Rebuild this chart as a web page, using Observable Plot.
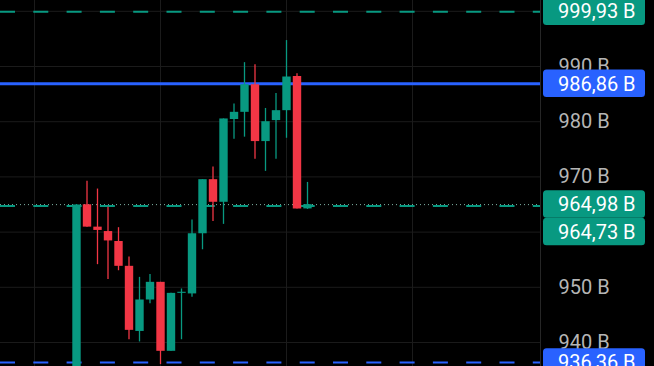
<!DOCTYPE html>
<html><head><meta charset="utf-8">
<script src="https://cdn.jsdelivr.net/npm/d3@7"></script>
<script src="https://cdn.jsdelivr.net/npm/@observablehq/plot@0.6"></script>
<style>
html,body{margin:0;padding:0;background:#000;}
#chart{width:654px;height:366px;overflow:hidden;}
</style></head><body><div id="chart"></div>
<script>
// ---- data ----
const candleIndex = d3.range(23);
const open  = [930.0, 964.95, 960.9, 960.1, 958.3, 953.8, 942.0, 947.7, 950.9, 938.4, 948.9, 948.8, 959.7, 969.5, 965.4, 980.4, 981.7, 986.7, 976.4, 980.2, 982.0, 988.2, 964.2];
const high  = [965.0, 969.2, 967.8, 964.5, 960.8, 955.5, 951.8, 952.3, 950.9, 948.9, 949.7, 962.2, 969.5, 971.8, 980.5, 983.2, 990.7, 990.3, 982.4, 985.1, 994.7, 988.7, 969.0];
const low   = [930.0, 960.9, 954.1, 951.4, 953.0, 940.5, 940.1, 947.0, 936.0, 938.4, 940.5, 948.2, 956.8, 961.9, 961.4, 976.8, 977.2, 973.2, 971.0, 973.2, 977.0, 964.2, 964.1];
const close = [964.9, 960.9, 960.3, 958.4, 953.8, 942.2, 947.7, 950.9, 938.4, 948.9, 949.1, 959.7, 969.5, 965.4, 980.5, 981.7, 986.7, 976.4, 980.0, 982.0, 988.1, 964.2, 964.98];
const gridTicks = [940, 950, 960, 970, 980, 990, 1000];
const labelTicks = [940, 950, 970, 980, 990]; // 960 and 1000 sit under price tags
const gridCandles = [-4, 8, 20, 32];
const levelValues = [999.93, 986.86, 964.73, 936.36];
const levelKinds  = ["target", "alert", "target", "alertDashed"];
const lastPrice = 964.98;
const tagValues = [999.93, 986.86, 964.98, 964.73, 936.36];
const tagKinds  = ["target", "alert", "target", "target", "alert"];

// ---- styling ----
const GREEN = "#089981", RED = "#f23645", BLUE = "#2962ff", GRID = "#1b1b1b";
const kindColor = k => k.startsWith("alert") ? BLUE : GREEN;
const fmt = v => v.toFixed(2).replace(".", ",") + " B";

const candles = candleIndex.map(i => ({i, o: open[i], h: high[i], l: low[i], c: close[i]}));
const levels = levelValues.map((v, k) => ({v, kind: levelKinds[k]}));
const tags = tagValues.map((v, k) => ({value: v, kind: tagKinds[k]}));
const col = d => d.c >= d.o ? GREEN : RED;

const W = 654, H = 366, MR = 114;
const TAG_H = 27.5, TAG_W = 102;

function tagMark(data) {
  return Plot.text(data, {
    y: "value", text: d => fmt(d.value), frameAnchor: "right",
    render(index, scales, values, dimensions) {
      const g = d3.create("svg:g").attr("text-anchor", "start");
      const x0 = dimensions.width - dimensions.marginRight + 3;
      const order = Array.from(index).sort((a, b) => values.y[a] - values.y[b]);
      let prevBottom = -Infinity;
      for (const i of order) {
        let cy = values.y[i];
        if (cy - TAG_H / 2 < prevBottom) cy = prevBottom + TAG_H / 2;
        prevBottom = cy + TAG_H / 2;
        g.append("rect").attr("x", x0).attr("y", cy - TAG_H / 2)
          .attr("width", TAG_W).attr("height", TAG_H).attr("rx", 3.5)
          .attr("fill", kindColor(data[i].kind));
        g.append("text").attr("x", x0 + 15).attr("y", cy).attr("dy", "0.36em")
          .attr("text-anchor", "start")
          .attr("fill", "#ffffff").attr("font-size", 20).text(fmt(data[i].value));
      }
      return g.node();
    }
  });
}

const chart = Plot.plot({
  width: W, height: H,
  marginLeft: 0, marginRight: MR, marginTop: 0, marginBottom: 0,
  style: {background: "#000", fontFamily: "Roboto, sans-serif", color: "#b5b5b5"},
  x: {type: "linear", domain: [-76 / 10.5, (540 - 76) / 10.5], axis: null},
  y: {domain: [935.65, 1001.96], axis: null},
  marks: [
    Plot.ruleY(gridTicks, {stroke: GRID, strokeWidth: 1}),
    Plot.ruleX(gridCandles, {stroke: GRID, strokeWidth: 1}),
    Plot.ruleX([(540 - 76) / 10.5], {stroke: "#262626", strokeWidth: 1}),
    Plot.ruleY([lastPrice], {stroke: "#7fb3a6", strokeWidth: 1, strokeDasharray: "1,3"}),
    Plot.ruleY(levels.filter(d => d.kind === "target"), {y: "v", stroke: GREEN, strokeWidth: 2, strokeDasharray: "15,18.3"}),
    Plot.ruleY(levels.filter(d => d.kind === "alertDashed"), {y: "v", stroke: BLUE, strokeWidth: 2, strokeDasharray: "15,18.3"}),
    Plot.ruleY(levels.filter(d => d.kind === "alert"), {y: "v", stroke: BLUE, strokeWidth: 3}),
    Plot.ruleX(candles, {x: "i", y1: "l", y2: "h", stroke: col, strokeWidth: 1.3}),
    Plot.ruleX(candles, {x: "i", y1: "o", y2: "c", stroke: col, strokeWidth: 8.4, strokeLinecap: "butt"}),
    Plot.axisY(labelTicks, {anchor: "right", tickSize: 0, tickPadding: 18, tickFormat: d => `${d} B`, fontSize: 20, fill: "#b5b5b5"}),
    tagMark(tags)
  ]
});
document.getElementById("chart").appendChild(chart);
</script>
</body></html>
